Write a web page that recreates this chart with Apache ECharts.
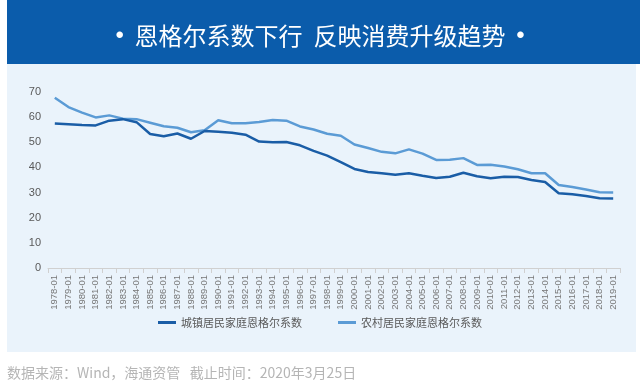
<!DOCTYPE html>
<html><head><meta charset="utf-8">
<script src="https://cdn.jsdelivr.net/npm/echarts@6/dist/echarts.min.js"></script>
<style>html,body{margin:0;padding:0;background:#fff}#c{width:640px;height:386px}</style>
</head><body><div id="c"></div>
<script>
var years = ['1978-01','1979-01','1980-01','1981-01','1982-01','1983-01','1984-01','1985-01','1986-01','1987-01','1988-01','1989-01','1990-01','1991-01','1992-01','1993-01','1994-01','1995-01','1996-01','1997-01','1998-01','1999-01','2000-01','2001-01','2002-01','2003-01','2004-01','2005-01','2006-01','2007-01','2008-01','2009-01','2010-01','2011-01','2012-01','2013-01','2014-01','2015-01','2016-01','2017-01','2018-01','2019-01'];
var urban = [57.5,57.2,56.9,56.7,58.6,59.2,58.0,53.3,52.4,53.5,51.4,54.5,54.2,53.8,53.0,50.3,50.0,50.1,48.8,46.6,44.7,42.1,39.4,38.2,37.7,37.1,37.7,36.7,35.8,36.3,37.9,36.5,35.7,36.3,36.2,35.0,34.2,29.7,29.3,28.6,27.7,27.6];
var rural = [67.7,64.0,61.8,59.9,60.7,59.4,59.2,57.8,56.4,55.8,54.0,54.8,58.8,57.6,57.6,58.1,58.9,58.6,56.3,55.1,53.4,52.6,49.1,47.7,46.2,45.6,47.2,45.5,43.0,43.1,43.7,41.0,41.1,40.4,39.3,37.7,37.7,33.0,32.2,31.2,30.1,30.0];
var seriesNames = ['城镇居民家庭恩格尔系数','农村居民家庭恩格尔系数'];
var titleText = '{d|•}  恩格尔系数下行  反映消费升级趋势  {d|•}';
var footerText = '数据来源：Wind，海通资管   截止时间：2020年3月25日';

var chart = echarts.init(document.getElementById('c'));
chart.setOption({
  animation: false,
  graphic: [
    {type:'rect', shape:{x:7,y:64,width:629,height:288}, style:{fill:'#EAF3FB'}, z:-10},
    {type:'rect', shape:{x:7,y:0,width:633,height:64}, style:{fill:'#0B5CAB'}, z:-9},
    {type:'text', left:7, top:366, style:{text:footerText, fill:'#b5b5b5', font:'14px "Noto Sans CJK SC", sans-serif'}}
  ],
  title: {
    text: titleText, left: 'center', top: 19,
    textStyle: {color:'#fff', fontSize:24, fontWeight:'normal', fontFamily:'"Noto Sans CJK SC", sans-serif',
      rich: {d: {color:'#fff', fontSize:24, fontFamily:'"Liberation Sans", sans-serif'}}}
  },
  legend: {
    bottom: 53, left: 'center', itemGap: 36, itemWidth: 18, itemHeight: 3, icon: 'rect',
    textStyle: {color:'#595959', fontSize:11, fontFamily:'"Noto Sans CJK SC", sans-serif'},
    data: seriesNames
  },
  grid: {left:48, right:20, top:92, bottom:118},
  xAxis: {
    type:'category', data: years, boundaryGap:true,
    axisLine:{lineStyle:{color:'#d0d0d0'}},
    axisTick:{show:true, lineStyle:{color:'#d0d0d0'}},
    axisLabel:{rotate:90, fontSize:9.5, color:'#777', interval:0, margin:7, fontFamily:'Liberation Sans, sans-serif'}
  },
  yAxis: {
    type:'value', min:0, max:70, interval:10,
    axisLine:{show:false}, axisTick:{show:false}, splitLine:{show:false},
    axisLabel:{fontSize:11, color:'#595959', margin:7, fontFamily:'Liberation Sans, sans-serif'}
  },
  series: [
    {name: seriesNames[1], type:'line', data: rural, symbol:'none', lineStyle:{width:2.5, color:'#5B9BD5'}, itemStyle:{color:'#5B9BD5'}},
    {name: seriesNames[0], type:'line', data: urban, symbol:'none', lineStyle:{width:2.5, color:'#1A5DA6'}, itemStyle:{color:'#1A5DA6'}}
  ]
});
</script></body></html>
